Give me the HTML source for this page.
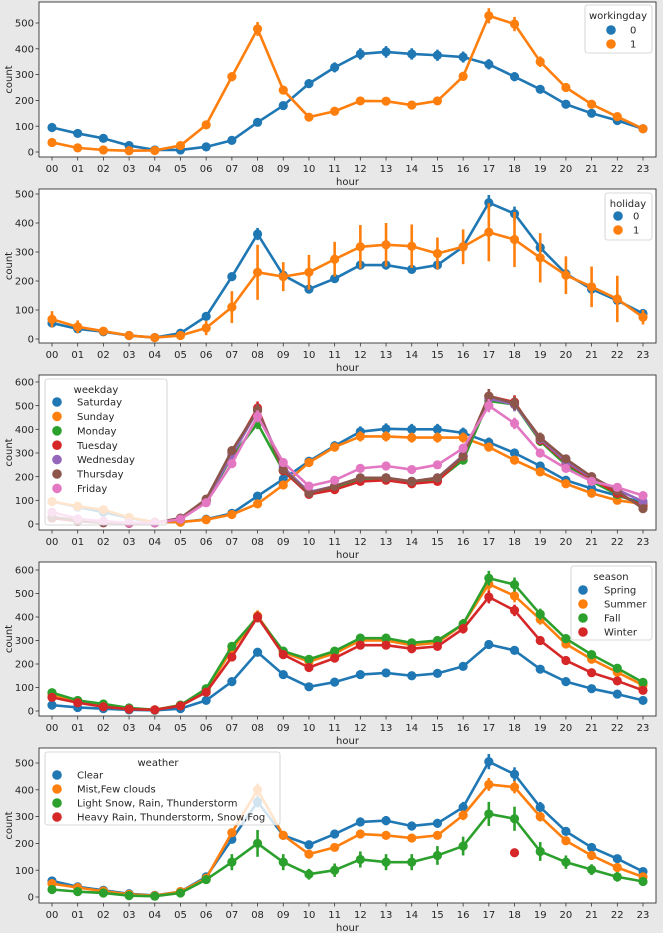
<!DOCTYPE html>
<html><head><meta charset="utf-8">
<style>
body{margin:0;background:#e8e8e8;}
svg{display:block;font-family:"DejaVu Sans","Liberation Sans",sans-serif;}
</style></head>
<body>
<svg id="fig" width="663" height="933" viewBox="0 0 663 933"></svg>
<script>
const hours=["00","01","02","03","04","05","06","07","08","09","10","11","12","13","14","15","16","17","18","19","20","21","22","23"];
const C=["#1f77b4","#ff7f0e","#2ca02c","#d62728","#9467bd","#8c564b","#e377c2"];
// panel 1: workingday
const wd0=[95,72,53,25,8,8,20,45,115,180,265,328,380,388,380,375,368,340,292,243,185,150,122,90];
const wd1=[37,16,8,5,6,25,105,292,477,240,135,158,198,197,182,198,293,528,496,350,250,185,137,90];
// panel 2: holiday
const hol0=[55,35,25,12,5,20,78,215,362,220,172,208,255,255,240,255,318,470,432,315,225,172,133,88];
const hol1=[68,42,27,12,5,12,38,110,230,215,230,275,318,325,320,295,318,368,343,280,220,180,138,75];
const hol1Err=[28,22,12,6,3,6,25,55,95,50,60,60,75,75,75,55,60,100,95,85,65,70,80,25];
// panel 3: weekday
const wkSat=[95,72,50,25,8,8,20,45,118,190,265,330,390,402,400,400,385,345,300,245,185,150,120,90];
const wkSun=[95,75,60,28,8,8,18,40,85,165,260,325,370,370,365,365,365,325,270,220,170,130,100,85];
const wkMon=[28,15,8,4,5,20,95,285,425,225,130,150,185,195,175,185,270,520,505,350,250,180,125,80];
const wkTue=[25,12,5,3,5,22,100,300,490,225,125,145,180,185,170,180,285,540,515,355,260,190,130,75];
const wkWed=[30,14,6,4,5,22,100,290,480,240,135,160,195,195,180,195,290,530,505,360,265,195,145,95];
const wkThu=[30,15,6,4,5,25,105,310,480,230,130,160,195,195,180,195,285,540,510,365,275,200,140,65];
const wkFri=[50,22,12,5,5,20,90,255,455,260,160,185,235,245,230,250,320,500,425,300,235,180,155,120];
// panel 4: season
const sSpring=[25,15,10,5,3,10,45,125,250,155,103,123,155,162,150,160,190,283,258,178,125,95,72,45];
const sSummer=[70,40,25,10,5,25,90,260,405,250,210,245,300,300,280,290,370,540,490,390,285,220,165,110];
const sFall=[78,45,30,13,5,25,95,275,400,255,220,255,310,310,290,300,370,565,538,412,308,240,182,122];
const sWinter=[58,35,18,8,5,22,80,230,400,240,185,225,280,280,265,275,350,485,428,300,215,163,128,88];
// panel 5: weather
const wClear=[60,38,25,12,6,20,75,215,355,230,195,235,280,285,265,275,335,505,458,335,245,185,143,95];
const wMist=[50,35,22,10,5,20,70,240,400,230,160,185,235,230,220,230,305,420,410,300,210,155,110,75];
const wLight=[28,20,15,5,3,15,65,130,200,130,85,100,140,130,130,155,190,310,292,170,130,102,75,58];
const wLightErr=[8,6,5,3,2,6,15,30,50,30,20,25,30,30,30,35,35,45,45,35,25,20,18,12];
const wHeavy=[null,null,null,null,null,null,null,null,null,null,null,null,null,null,null,null,null,null,165,null,null,null,null,null];
const ticks500=[0,100,200,300,400,500];
const ticks600=[0,100,200,300,400,500,600];

const NS="http://www.w3.org/2000/svg";
const svg=document.getElementById("fig");
function mk(tag,attrs,parent){const e=document.createElementNS(NS,tag);for(const k in attrs)e.setAttribute(k,attrs[k]);(parent||svg).appendChild(e);return e;}

const X0=39,X1=656;
const FS=10;
const xs=i=>52+i*(591/23);

function panel(p){
  const g=mk("g",{});
  
  
  const ys=v=>p.y0-(v/100)*p.u;
  mk("rect",{x:X0,y:p.top,width:X1-X0,height:p.bot-p.top,fill:"#fff",stroke:"#333","stroke-width":0.9},g);
  p.ticks.forEach(t=>{
    const y=ys(t);
    mk("line",{x1:X0-3.5,x2:X0,y1:y,y2:y,stroke:"#333","stroke-width":0.8},g);
    const tx=mk("text",{x:X0-5,y:y+3.6,"text-anchor":"end","font-size":FS,fill:"#262626"},g);
    tx.textContent=t;
    
    
  });
  hours.forEach((h,i)=>{
    const x=xs(i);
    mk("line",{x1:x,x2:x,y1:p.bot,y2:p.bot+3.5,stroke:"#333","stroke-width":0.8},g);
    const tx=mk("text",{x:x,y:p.bot+15,"text-anchor":"middle","font-size":FS,fill:"#262626"},g);
    tx.textContent=h;
    
    
  });
  const xl=mk("text",{x:(X0+X1)/2,y:p.bot+28,"text-anchor":"middle","font-size":FS,fill:"#262626"},g);
  xl.textContent="hour";
  
  
  const yl=mk("text",{x:0,y:0,"text-anchor":"middle","font-size":FS,fill:"#262626",transform:`translate(12,${(p.top+p.bot)/2}) rotate(-90)`},g);
  yl.textContent="count";
  
  
  p.series.forEach((s,si)=>{
    const sg=mk("g",{},g);
    
    
    const pts=[];
    s.v.forEach((v,i)=>{if(v!==null)pts.push([xs(i),ys(v),i,v]);});
    if(pts.length>1){
      const ln=mk("polyline",{points:pts.map(q=>q[0]+","+q[1]).join(" "),fill:"none",stroke:s.c,"stroke-width":2.6,"stroke-linejoin":"round"},sg);
      
      
    }
    pts.forEach(q=>{
      const e=s.err?s.err[q[2]]:(q[3]*0.05+3);
      const el=mk("line",{x1:q[0],x2:q[0],y1:ys(q[3]-e),y2:ys(q[3]+e),stroke:s.c,"stroke-width":2.6},sg);
      
      
      const c=mk("circle",{cx:q[0],cy:q[1],r:4.6,fill:s.c},sg);
      
      
    });
  });
  const L=p.leg;
  const lg=mk("g",{},g);
  
  
  mk("rect",{x:L.x,y:L.y,width:L.w,height:L.h,rx:2.5,fill:"#fff","fill-opacity":0.8,stroke:"#ccc","stroke-width":0.8},lg);
  const tt=mk("text",{x:L.tx,y:L.y+14,"text-anchor":"middle","font-size":FS,fill:"#262626"},lg);
  tt.textContent=L.title;
  
  
  p.series.forEach((s,si)=>{
    const y=L.ey+si*L.dy;
    const c=mk("circle",{cx:L.mx,cy:y,r:4.8,fill:s.c},lg);
    
    
    const t=mk("text",{x:L.lx,y:y+3.6,"font-size":FS,fill:"#262626"},lg);
    t.textContent=s.label;
    
    
  });
}

panel({name:"workingday-panel",top:2,bot:157,y0:152,u:25.8,ticks:ticks500,
  series:[{label:"0",v:wd0,c:C[0]},{label:"1",v:wd1,c:C[1]}],
  leg:{x:585,y:5,w:67,h:48,title:"workingday",tx:618,ey:30,dy:14,mx:611,lx:630}});
panel({name:"holiday-panel",top:189,bot:343,y0:339,u:29,ticks:ticks500,
  series:[{label:"0",v:hol0,c:C[0]},{label:"1",v:hol1,c:C[1],err:hol1Err}],
  leg:{x:605,y:193,w:47,h:47,title:"holiday",tx:628,ey:216,dy:14,mx:618,lx:633}});
panel({name:"weekday-panel",top:375,bot:530,y0:524,u:23.67,ticks:ticks600,
  series:[{label:"Saturday",v:wkSat,c:C[0]},{label:"Sunday",v:wkSun,c:C[1]},{label:"Monday",v:wkMon,c:C[2]},{label:"Tuesday",v:wkTue,c:C[3]},{label:"Wednesday",v:wkWed,c:C[4]},{label:"Thursday",v:wkThu,c:C[5]},{label:"Friday",v:wkFri,c:C[6]}],
  leg:{x:45,y:379,w:122,h:146,title:"weekday",tx:96,ey:402,dy:14.4,mx:57,lx:77}});
panel({name:"season-panel",top:562,bot:716,y0:711,u:23.5,ticks:ticks600,
  series:[{label:"Spring",v:sSpring,c:C[0]},{label:"Summer",v:sSummer,c:C[1]},{label:"Fall",v:sFall,c:C[2]},{label:"Winter",v:sWinter,c:C[3]}],
  leg:{x:571,y:566,w:81,h:74,title:"season",tx:611,ey:590,dy:14,mx:583,lx:604}});
panel({name:"weather-panel",top:748,bot:903,y0:897,u:26.8,ticks:ticks500,
  series:[{label:"Clear",v:wClear,c:C[0]},{label:"Mist,Few clouds",v:wMist,c:C[1]},{label:"Light Snow, Rain, Thunderstorm",v:wLight,c:C[2],err:wLightErr},{label:"Heavy Rain, Thunderstorm, Snow,Fog",v:wHeavy,c:C[3]}],
  leg:{x:45,y:752,w:235,h:73,title:"weather",tx:158,ey:775,dy:14,mx:57,lx:77}});
</script>
</body></html>
